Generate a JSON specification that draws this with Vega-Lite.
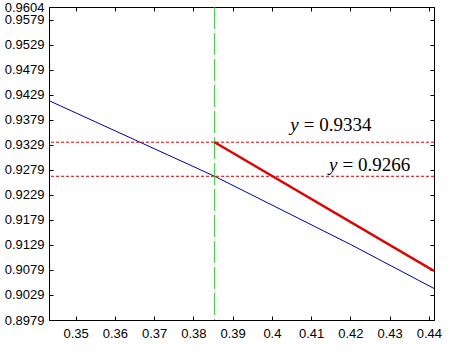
{
  "$schema": "https://vega.github.io/schema/vega-lite/v6.json",
  "width": 385,
  "height": 313,
  "autosize": {"type": "none"},
  "padding": {"left": 49, "top": 7, "right": 23, "bottom": 31},
  "background": "white",
  "config": {
    "view": {"stroke": "#000", "strokeWidth": 1},
    "axis": {
      "grid": false,
      "domainColor": "#000",
      "tickColor": "#000",
      "labelColor": "#000",
      "labelFont": "Liberation Sans",
      "labelFontSize": 13,
      "labelOverlap": false,
      "labelFlush": false,
      "title": null
    }
  },
  "datasets": {
    "blue": [
      {"x": 0.3432, "y": 0.9417},
      {"x": 0.3854, "y": 0.9266},
      {"x": 0.42, "y": 0.913},
      {"x": 0.4413, "y": 0.9042}
    ],
    "red": [
      {"x": 0.3854, "y": 0.9334},
      {"x": 0.4413, "y": 0.9077}
    ],
    "hlines": [{"y": 0.9334}, {"y": 0.9266}],
    "vline": [{"x": 0.3854}],
    "labels": [
      {"x": 0.4081, "y": 0.9357, "v": "y", "rest": "= 0.9334"},
      {"x": 0.418, "y": 0.9277, "v": "y", "rest": "= 0.9266"}
    ]
  },
  "layer": [
    {
      "data": {"name": "blue"},
      "mark": {"type": "line", "color": "#0000a0", "strokeWidth": 1, "clip": true},
      "encoding": {
        "x": {
          "field": "x", "type": "quantitative",
          "scale": {"domain": [0.3432, 0.4413], "nice": false, "zero": false},
          "axis": {
            "orient": "bottom",
            "values": [0.35, 0.36, 0.37, 0.38, 0.39, 0.4, 0.41, 0.42, 0.43, 0.44],
            "format": ".2~f",
            "tickSize": -4,
            "labelPadding": 11,
            "domain": true
          }
        },
        "y": {
          "field": "y", "type": "quantitative",
          "scale": {"domain": [0.8979, 0.9604], "nice": false, "zero": false},
          "axis": {
            "orient": "left",
            "values": [0.8979, 0.9029, 0.9079, 0.9129, 0.9179, 0.9229, 0.9279, 0.9329, 0.9379, 0.9429, 0.9479, 0.9529, 0.9579, 0.9604],
            "format": ".4f",
            "tickSize": -4,
            "labelPadding": 9,
            "domain": true
          }
        }
      }
    },
    {
      "data": {"name": "hlines"},
      "mark": {"type": "rule", "color": "#d00000", "strokeWidth": 1, "strokeDash": [3, 2]},
      "encoding": {
        "y": {"field": "y", "type": "quantitative", "axis": null}
      }
    },
    {
      "data": {"name": "vline"},
      "mark": {"type": "rule", "color": "#33cc33", "strokeWidth": 1, "strokeDash": [22, 4]},
      "encoding": {
        "x": {"field": "x", "type": "quantitative", "axis": null}
      }
    },
    {
      "data": {"name": "red"},
      "mark": {"type": "line", "color": "#e00000", "strokeWidth": 2.5, "clip": true},
      "encoding": {
        "x": {
          "field": "x", "type": "quantitative",
          "axis": {
            "orient": "top",
            "values": [0.35, 0.36, 0.37, 0.38, 0.39, 0.4, 0.41, 0.42, 0.43, 0.44],
            "labels": false,
            "tickSize": -4,
            "domain": false
          }
        },
        "y": {
          "field": "y", "type": "quantitative",
          "axis": {
            "orient": "right",
            "values": [0.8979, 0.9029, 0.9079, 0.9129, 0.9179, 0.9229, 0.9279, 0.9329, 0.9379, 0.9429, 0.9479, 0.9529, 0.9579, 0.9604],
            "labels": false,
            "tickSize": -4,
            "domain": false
          }
        }
      }
    },
    {
      "data": {"name": "labels"},
      "mark": {"type": "text", "font": "Liberation Serif", "fontSize": 19, "fontStyle": "italic", "align": "right", "baseline": "alphabetic", "dx": -5, "color": "#000"},
      "encoding": {
        "x": {"field": "x", "type": "quantitative", "axis": null},
        "y": {"field": "y", "type": "quantitative", "axis": null},
        "text": {"field": "v"}
      }
    },
    {
      "data": {"name": "labels"},
      "mark": {"type": "text", "font": "Liberation Serif", "fontSize": 19, "align": "left", "baseline": "alphabetic", "color": "#000"},
      "encoding": {
        "x": {"field": "x", "type": "quantitative", "axis": null},
        "y": {"field": "y", "type": "quantitative", "axis": null},
        "text": {"field": "rest"}
      }
    }
  ],
  "resolve": {"axis": {"x": "independent", "y": "independent"}}
}
